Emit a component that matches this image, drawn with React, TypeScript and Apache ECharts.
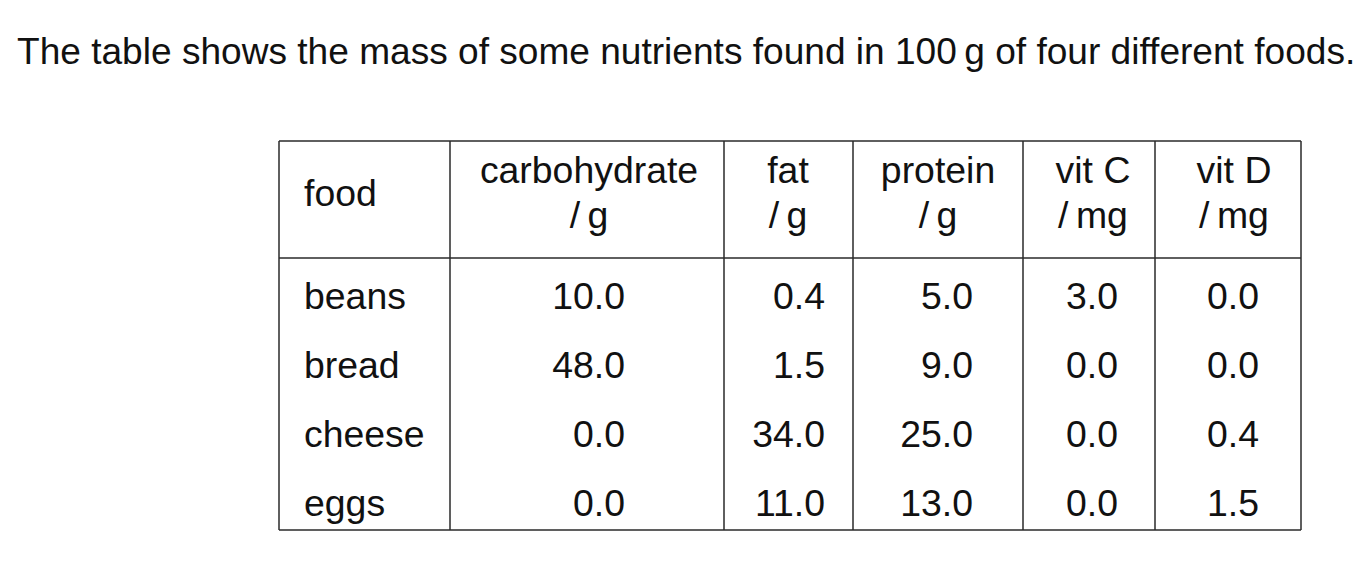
import React, { useEffect, useRef } from "react";
import * as echarts from "echarts";

const titleText =
  "The table shows the mass of some nutrients found in 100\u2009g of four different foods.";
const headerNames = ["food", "carbohydrate", "fat", "protein", "vit C", "vit D"];
const headerUnits = ["", "/\u2009g", "/\u2009g", "/\u2009g", "/\u2009mg", "/\u2009mg"];
const foods = ["beans", "bread", "cheese", "eggs"];
const carbohydrate = [10.0, 48.0, 0.0, 0.0];
const fat = [0.4, 1.5, 34.0, 11.0];
const protein = [5.0, 9.0, 25.0, 13.0];
const vitC = [3.0, 0.0, 0.0, 0.0];
const vitD = [0.0, 0.0, 0.4, 1.5];

// layout (pixels)
const FONT = "'Liberation Sans', Arial, Helvetica, sans-serif";
const colEdges = [279, 450, 724, 853, 1023, 1155, 1301];
const headerCenters = [0, 589, 788, 938, 1093, 1234];
const valueRights = [625, 825, 973, 1118, 1259];
const tableTop = 141;
const headerBottom = 258;
const tableBottom = 530;
const rowBaseline0 = 309;
const rowPitch = 69;

export default function App() {
  const ref = useRef<HTMLDivElement>(null);
  useEffect(() => {
    if (!ref.current) return;
    const chart = echarts.init(ref.current, undefined, { renderer: "svg" });
    const columns = [carbohydrate, fat, protein, vitC, vitD];
    const fs = 37.4;
    const mid = (baseline: number, size: number) => baseline - size * 0.3465;
    const textColor = "#111";
    const lineStyle = { stroke: "#2a2a2a", lineWidth: 1.5 };
    const elements: any[] = [];

    elements.push({
      type: "text",
      x: 17,
      y: mid(63.5, 37.1),
      style: {
        text: titleText,
        font: `37.1px ${FONT}`,
        fill: textColor,
        align: "left",
        verticalAlign: "middle",
      },
    });

    // horizontal lines
    [tableTop, headerBottom, tableBottom].forEach((y) => {
      elements.push({
        type: "line",
        shape: { x1: colEdges[0], y1: y, x2: colEdges[colEdges.length - 1], y2: y },
        style: lineStyle,
      });
    });
    // vertical lines
    colEdges.forEach((x) => {
      elements.push({
        type: "line",
        shape: { x1: x, y1: tableTop, x2: x, y2: tableBottom },
        style: lineStyle,
      });
    });

    // header
    headerNames.forEach((name, i) => {
      if (i === 0) {
        elements.push({
          type: "text",
          x: 304,
          y: mid(206, fs),
          style: { text: name, font: `${fs}px ${FONT}`, fill: textColor, align: "left", verticalAlign: "middle" },
        });
      } else {
        elements.push({
          type: "text",
          x: headerCenters[i],
          y: mid(183, fs),
          style: { text: name, font: `${fs}px ${FONT}`, fill: textColor, align: "center", verticalAlign: "middle" },
        });
        elements.push({
          type: "text",
          x: headerCenters[i],
          y: mid(228, fs),
          style: { text: headerUnits[i], font: `${fs}px ${FONT}`, fill: textColor, align: "center", verticalAlign: "middle" },
        });
      }
    });

    // body
    foods.forEach((food, r) => {
      const base = rowBaseline0 + r * rowPitch;
      elements.push({
        type: "text",
        x: 304,
        y: mid(base, fs),
        style: { text: food, font: `${fs}px ${FONT}`, fill: textColor, align: "left", verticalAlign: "middle" },
      });
      columns.forEach((col, c) => {
        elements.push({
          type: "text",
          x: valueRights[c],
          y: mid(base, fs),
          style: {
            text: col[r].toFixed(1),
            font: `${fs}px ${FONT}`,
            fill: textColor,
            align: "right",
            verticalAlign: "middle",
          },
        });
      });
    });

    chart.setOption({
      animation: false,
      backgroundColor: "#ffffff",
      graphic: { elements },
    });
    return () => chart.dispose();
  }, []);
  return (
    <div
      ref={ref}
      style={{ position: "absolute", left: 0, top: 0, width: 1372, height: 566 }}
    />
  );
}
